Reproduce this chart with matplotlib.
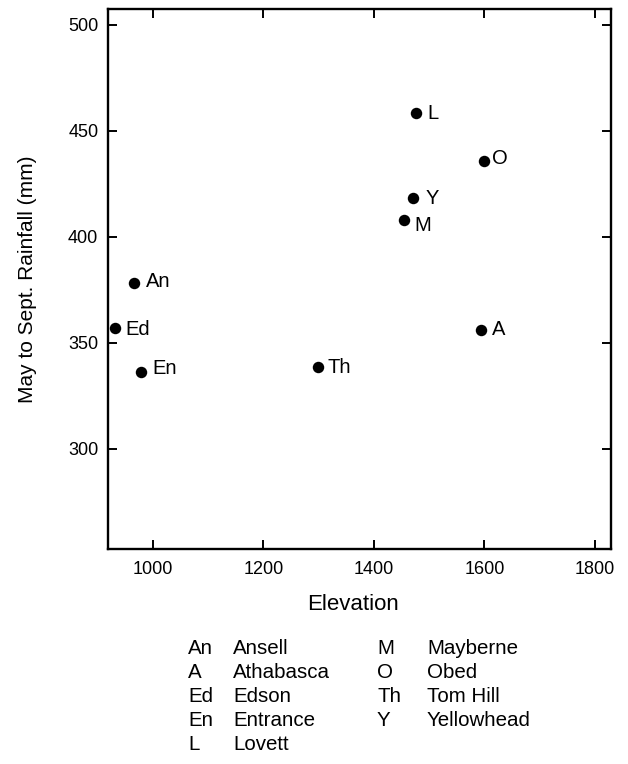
import matplotlib
matplotlib.use("Agg")
import matplotlib.pyplot as plt

# ---- data ----
codes = ["L", "O", "Y", "M", "An", "Ed", "A", "En", "Th"]
elevation = [1476, 1599, 1471, 1454, 966, 931, 1593, 978, 1299]
rainfall = [458.3, 435.8, 418.3, 408.0, 378.2, 357.0, 356.1, 336.5, 338.5]

x_ticks = [1000, 1200, 1400, 1600, 1800]
y_ticks = [300, 350, 400, 450, 500]

legend_col1_codes = ["An", "A", "Ed", "En", "L"]
legend_col1_names = ["Ansell", "Athabasca", "Edson", "Entrance", "Lovett"]
legend_col2_codes = ["M", "O", "Th", "Y"]
legend_col2_names = ["Mayberne", "Obed", "Tom Hill", "Yellowhead"]

# label offsets (points) - styling only
label_offsets = {
    "L": (8.5, 0), "O": (6, 2), "Y": (9, 0), "M": (8, -4),
    "An": (8.5, 1), "Ed": (8, -1), "A": (8, 0), "En": (8.5, 2.5), "Th": (7, 0),
}

plt.rcParams['font.family'] = ['Liberation Sans', 'DejaVu Sans']

W, H = 628, 764
fig = plt.figure(figsize=(W / 100, H / 100), dpi=100)
left, right, top, bottom = 108, 611, 9, 549
ax = fig.add_axes([left / W, 1 - bottom / H, (right - left) / W, (bottom - top) / H])

ax.scatter(elevation, rainfall, s=68, color="black", zorder=3, linewidths=0)
for c, x, y in zip(codes, elevation, rainfall):
    dx, dy = label_offsets[c]
    ax.annotate(c, (x, y), xytext=(dx, dy), textcoords="offset points",
                ha="left", va="center", fontsize=14.5, color="black")

ax.set_xlim(919, 1829)
ax.set_ylim(252.8, 507.5)
ax.set_xticks(x_ticks)
ax.set_yticks(y_ticks)
ax.tick_params(direction="in", length=6.5, width=1.4, labelsize=13,
               top=True, right=True, labeltop=False, labelright=False, colors="black")
ax.tick_params(axis="x", pad=9)
ax.tick_params(axis="y", pad=7)
for s in ax.spines.values():
    s.set_linewidth(1.7)
    s.set_color("black")

fig.text(28 / W, 1 - 279 / H, "May to Sept. Rainfall (mm)", rotation=90,
         ha="center", va="center", fontsize=15)
fig.text(353 / W, 1 - 605 / H, "Elevation", ha="center", va="center", fontsize=16)

row_y = [648, 672, 696, 720, 744]
for i, (c, n) in enumerate(zip(legend_col1_codes, legend_col1_names)):
    fig.text(188 / W, 1 - row_y[i] / H, c, ha="left", va="center", fontsize=14.8)
    fig.text(233 / W, 1 - row_y[i] / H, n, ha="left", va="center", fontsize=14.8)
for i, (c, n) in enumerate(zip(legend_col2_codes, legend_col2_names)):
    fig.text(377 / W, 1 - row_y[i] / H, c, ha="left", va="center", fontsize=14.8)
    fig.text(427 / W, 1 - row_y[i] / H, n, ha="left", va="center", fontsize=14.8)

fig.savefig("out.png", dpi=100)
